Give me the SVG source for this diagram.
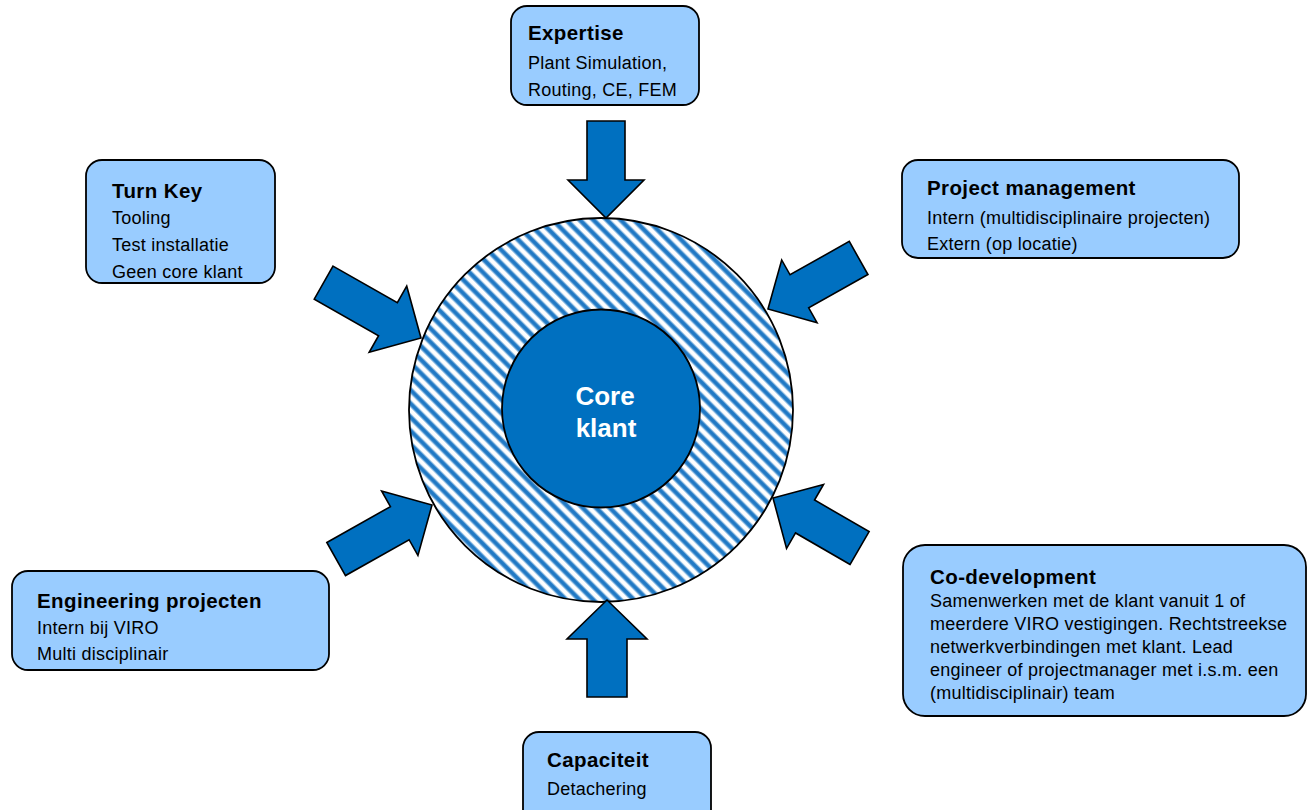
<svg xmlns="http://www.w3.org/2000/svg" width="1307" height="810" viewBox="0 0 1307 810">
<style>
.box{fill:#99CCFF;stroke:#000;stroke-width:1.8}
.arrow{fill:#0070C0;stroke:#000;stroke-width:1.6;stroke-linejoin:miter}
.t{font-family:"Liberation Sans",Arial,sans-serif;font-size:20.5px;font-weight:bold;letter-spacing:0.4px;fill:#000}
.b{font-family:"Liberation Sans",Arial,sans-serif;font-size:18px;letter-spacing:0.25px;fill:#000}
.c{font-family:"Liberation Sans",Arial,sans-serif;font-size:26px;font-weight:bold;fill:#fff;text-anchor:middle}
</style>
<defs>
<linearGradient id="sg" x1="0" y1="0" x2="0" y2="1">
<stop offset="0" stop-color="#ffffff"/>
<stop offset="0.14" stop-color="#ffffff"/>
<stop offset="0.36" stop-color="#1f78c4"/>
<stop offset="0.62" stop-color="#1f78c4"/>
<stop offset="0.84" stop-color="#ffffff"/>
<stop offset="1" stop-color="#ffffff"/>
</linearGradient>
<pattern id="stripes" patternUnits="userSpaceOnUse" width="9.6" height="9.6" patternTransform="rotate(45)">
<rect x="0" y="0" width="9.6" height="9.6" fill="url(#sg)"/>
</pattern>
</defs>

<g id="core">
<circle cx="601" cy="410" r="192" fill="url(#stripes)" stroke="#000" stroke-width="1.8"/>
<circle cx="601" cy="408.5" r="99" fill="#0070C0" stroke="#000" stroke-width="1.8"/>
<text class="c" x="605" y="405">Core</text>
<text class="c" x="606" y="437">klant</text>
</g>

<g id="connectors">
<path class="arrow" transform="translate(606,218) rotate(90)" d="M -97 -19 L -38 -19 L -38 -38 L 0 0 L -38 38 L -38 19 L -97 19 Z"/>
<path class="arrow" transform="translate(607,600) rotate(-90)" d="M -97 -20 L -39 -20 L -39 -40 L 0 0 L -39 40 L -39 20 L -97 20 Z"/>
<path class="arrow" transform="translate(421,338) rotate(29.6)" d="M -112 -19 L -38 -19 L -38 -38 L 0 0 L -38 38 L -38 19 L -112 19 Z"/>
<path class="arrow" transform="translate(768,309) rotate(150.6)" d="M -104 -19 L -36 -19 L -36 -36 L 0 0 L -36 36 L -36 19 L -104 19 Z"/>
<path class="arrow" transform="translate(432,505) rotate(-29.4)" d="M -110 -19 L -37 -19 L -37 -37 L 0 0 L -37 37 L -37 19 L -110 19 Z"/>
<path class="arrow" transform="translate(773,498) rotate(210)" d="M -100 -19 L -37 -19 L -37 -37 L 0 0 L -37 37 L -37 19 L -100 19 Z"/>
</g>

<g id="expertise">
<rect class="box" x="511" y="6" width="188" height="99" rx="16"/>
<text class="t" x="528" y="40">Expertise</text>
<text class="b" x="528" y="69">Plant Simulation,</text>
<text class="b" x="528" y="96">Routing, CE, FEM</text>
</g>

<g id="turnkey">
<rect class="box" x="86" y="160" width="189" height="123" rx="16"/>
<text class="t" x="112" y="198">Turn Key</text>
<text class="b" x="112" y="224">Tooling</text>
<text class="b" x="112" y="251">Test installatie</text>
<text class="b" x="112" y="278">Geen core klant</text>
</g>

<g id="projectmanagement">
<rect class="box" x="902" y="160" width="337" height="98" rx="16"/>
<text class="t" x="927" y="195">Project management</text>
<text class="b" x="927" y="224">Intern (multidisciplinaire projecten)</text>
<text class="b" x="927" y="250">Extern (op locatie)</text>
</g>

<g id="engineering">
<rect class="box" x="12" y="571" width="317" height="99" rx="16"/>
<text class="t" x="37" y="608">Engineering projecten</text>
<text class="b" x="37" y="634">Intern bij VIRO</text>
<text class="b" x="37" y="660">Multi disciplinair</text>
</g>

<g id="codevelopment">
<rect class="box" x="903" y="545" width="403" height="171" rx="22"/>
<text class="t" x="930" y="584">Co-development</text>
<text class="b" x="930" y="607">Samenwerken met de klant vanuit 1 of</text>
<text class="b" x="930" y="630">meerdere VIRO vestigingen. Rechtstreekse</text>
<text class="b" x="930" y="653">netwerkverbindingen met klant. Lead</text>
<text class="b" x="930" y="676">engineer of projectmanager met i.s.m. een</text>
<text class="b" x="930" y="699">(multidisciplinair) team</text>
</g>

<g id="capaciteit">
<rect class="box" x="523" y="732" width="188" height="100" rx="16"/>
<text class="t" x="547" y="767">Capaciteit</text>
<text class="b" x="547" y="795">Detachering</text>
</g>
</svg>
